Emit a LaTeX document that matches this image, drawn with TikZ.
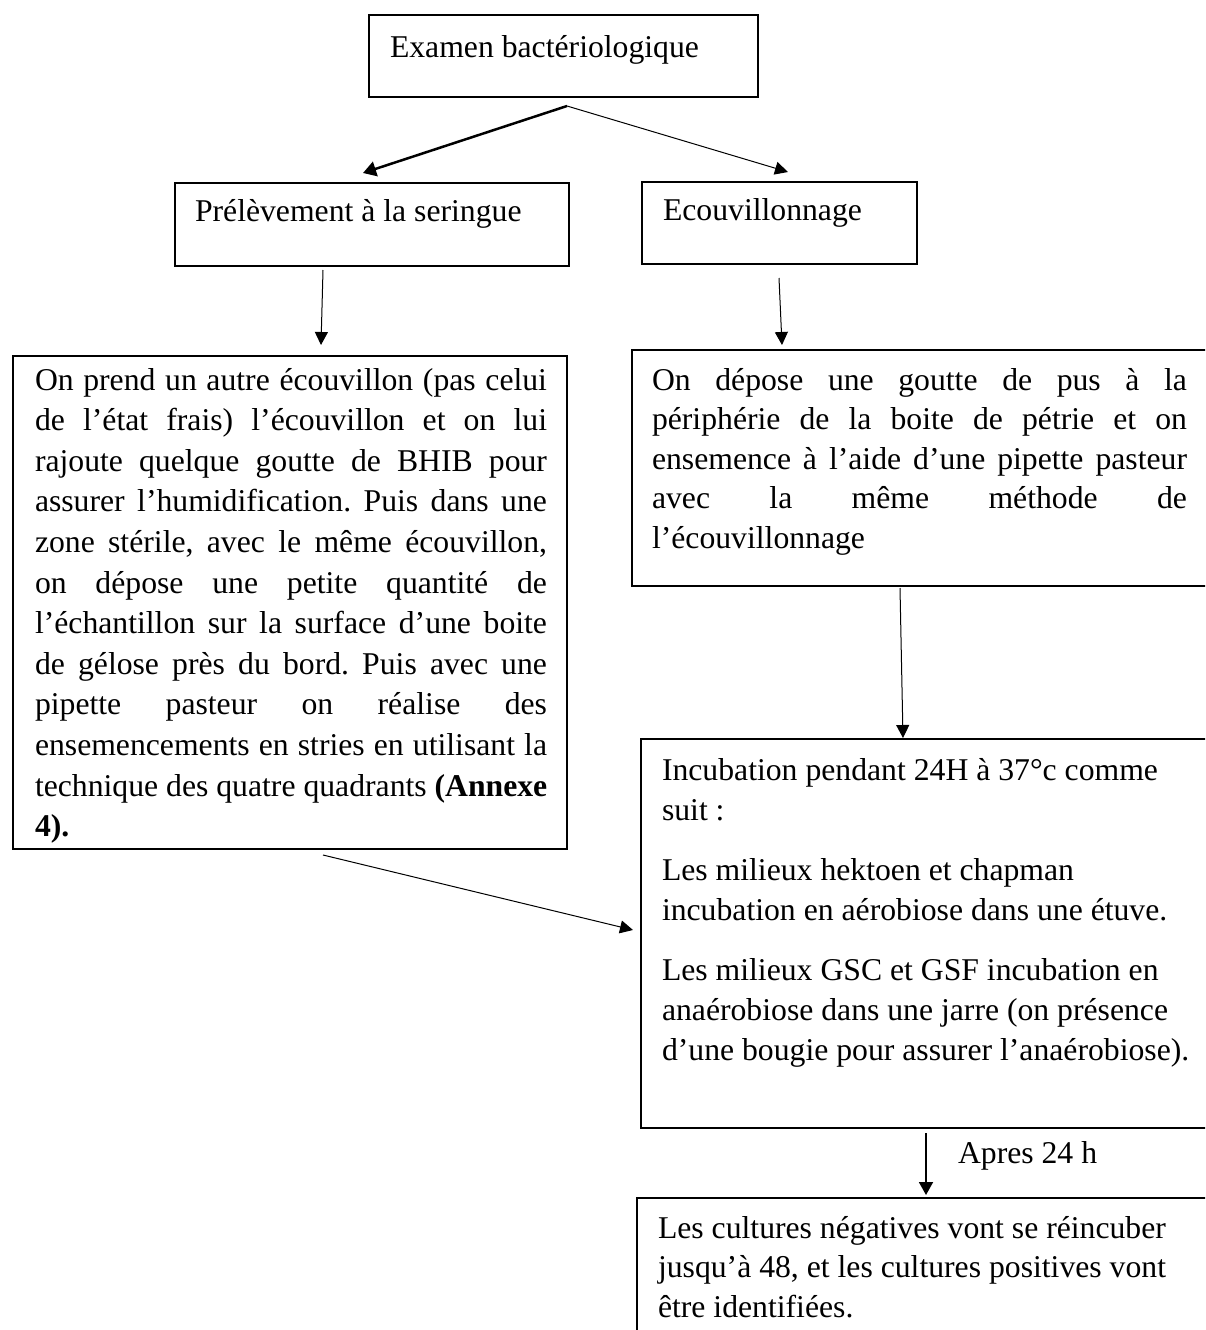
\documentclass[tikz,border=0pt]{standalone}
\usepackage{fontspec}
\setmainfont{Liberation Serif}
\usetikzlibrary{arrows.meta}
\newcommand{\jline}[2]{\leavevmode\hbox to #1{\spaceskip=0.25em plus 1fil\relax #2}\\}
\newcommand{\natsp}{\spaceskip=0pt\xspaceskip=0pt\relax}
\tikzset{
  boxnode/.style={draw, line width=1.8pt, inner sep=0pt, outer sep=0pt, anchor=north west},
  txt/.style={anchor=base west, inner sep=0pt, outer sep=0pt, font=\fontsize{31.7}{40}\selectfont\frenchspacing},
  thinarrow/.style={line width=1pt, -{Triangle[length=13pt,width=13pt]}},
  thickarrow/.style={line width=2.5pt, -{Triangle[length=13pt,width=15pt]}},
  midarrow/.style={line width=1.8pt, -{Triangle[length=13pt,width=14pt]}}
}
\begin{document}
\begin{tikzpicture}[x=1pt,y=-1pt]
\clip (0,0) rectangle (1205,1330);
\useasboundingbox (0,0) rectangle (1205,1330);
% boxes
\node[boxnode, minimum width=389pt, minimum height=82pt] (top) at (369,15) {};
\node[boxnode, minimum width=394pt, minimum height=83pt] (pre) at (175,183) {};
\node[boxnode, minimum width=275pt, minimum height=82pt] (eco) at (642,182) {};
\node[boxnode, minimum width=554pt, minimum height=493pt] (left) at (13,356) {};
\node[boxnode, minimum width=590pt, minimum height=236pt] (rone) at (632,350) {};
\node[boxnode, minimum width=590pt, minimum height=389pt] (inc) at (641,739) {};
\node[boxnode, minimum width=590pt, minimum height=200pt] (bot) at (637,1198) {};
% texts
\node[txt] (ttop) at (390,57) {Examen bactériologique};
\node[txt] (tpre) at (195,221) {Prélèvement à la seringue};
\node[txt] (teco) at (663,220) {Ecouvillonnage};
\node[txt, text width=512pt, font=\fontsize{31.7}{40.6}\selectfont\frenchspacing] (tleft) at (35,390) {\natsp
\jline{512pt}{On prend un autre écouvillon (pas celui}
\jline{512pt}{de l’état frais) l’écouvillon et on lui}
\jline{512pt}{rajoute quelque goutte de BHIB pour}
\jline{512pt}{assurer l’humidification. Puis dans une}
\jline{512pt}{zone stérile, avec le même écouvillon,}
\jline{512pt}{on dépose une petite quantité de}
\jline{512pt}{l’échantillon sur la surface d’une boite}
\jline{512pt}{de gélose près du bord. Puis avec une}
\jline{512pt}{pipette pasteur on réalise des}
\jline{512pt}{ensemencements en stries en utilisant la}
\jline{512pt}{technique des quatre quadrants \textbf{(Annexe}}
\textbf{4).}};
\node[txt, text width=535pt, font=\fontsize{31.7}{39.5}\selectfont\frenchspacing] (trone) at (652,390) {\natsp
\jline{535pt}{On dépose une goutte de pus à la}
\jline{535pt}{périphérie de la boite de pétrie et on}
\jline{535pt}{ensemence à l’aide d’une pipette pasteur}
\jline{535pt}{avec la même méthode de}
l’écouvillonnage};
\node[txt, text width=540pt] (tinc) at (662,780) {\natsp
Incubation pendant 24H à 37°c comme\\
suit :\\[20pt]
Les milieux hektoen et chapman\\
incubation en aérobiose dans une étuve.\\[20pt]
Les milieux GSC et GSF incubation en\\
anaérobiose dans une jarre (on présence\\
d’une bougie pour assurer l’anaérobiose).};
\node[txt, text width=540pt, font=\fontsize{31.7}{39.5}\selectfont\frenchspacing] (tbot) at (658,1238) {\natsp
Les cultures négatives vont se réincuber\\
jusqu’à 48, et les cultures positives vont\\
être identifiées.};
\node[txt] (lapres) at (958,1163) {Apres 24 h};
% connectors
\draw[thickarrow] ([shift={(3.5,9)}]top.south) -- ([shift={(-9,-10)}]pre.north);
\draw[thinarrow] ([shift={(3.5,9)}]top.south) -- ([shift={(8.5,-10)}]eco.north);
\draw[thinarrow] ([shift={(-49,4)}]pre.south) -- ([shift={(31,-11)}]left.north);
\draw[thinarrow] ([shift={(-0.5,14)}]eco.south) -- ([shift={(150,-5)}]rone.north west);
\draw[thinarrow] ([shift={(268,2)}]rone.south west) -- ([shift={(262,-1)}]inc.north west);
\draw[thinarrow] ([shift={(310,6)}]left.south west) -- ([shift={(-8,191)}]inc.north west);
\draw[midarrow] ([shift={(285,5)}]inc.south west) -- ([shift={(289,-3)}]bot.north west);
\end{tikzpicture}
\end{document}
